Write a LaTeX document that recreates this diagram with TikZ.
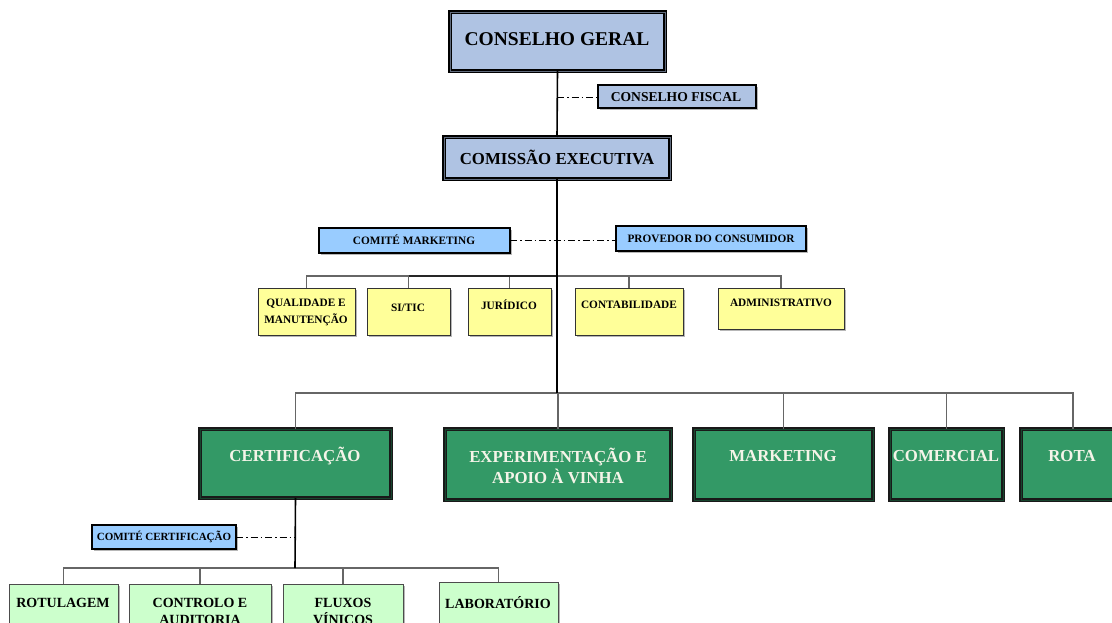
\documentclass[tikz,border=0pt]{standalone}
\usepackage{fontspec}
\setmainfont{Liberation Serif}
\usetikzlibrary{shadows}
\definecolor{topblue}{HTML}{AFC3E3}
\definecolor{comblue}{HTML}{99CCFF}
\definecolor{yel}{HTML}{FFFF99}
\definecolor{grn}{HTML}{339966}
\definecolor{lgrn}{HTML}{CCFFCC}
\definecolor{wtxt}{HTML}{F4F4E8}
\tikzset{
  x=1pt, y=1pt,
  box/.style={anchor=north west, inner sep=0pt, outer sep=0pt},
  shad/.style={drop shadow={shadow xshift=1.6pt, shadow yshift=-1.6pt, fill=black!35, opacity=0.8}},
  topbox/.style={box, shad, fill=topblue, draw=black, line width=1.1pt, double=black!45!topblue, double distance=0.9pt},
  fiscbox/.style={box, shad, fill=topblue, draw=black, line width=2.4pt},
  combox/.style={box, shad, fill=comblue, draw=black, line width=1.4pt},
  yelbox/.style={box, shad, fill=yel, draw=black!80, line width=0.9pt},
  grnbox/.style={box, shad, fill=grn, draw=black!90, line width=1.1pt, double=black!55!grn, double distance=0.9pt},
  lgbox/.style={box, shad, fill=lgrn, draw=black!70, line width=0.9pt},
  txt/.style={inner sep=0pt, align=center, font=\bfseries},
  trunk/.style={draw=black, line width=1.6pt},
  bus/.style={draw=black!60, line width=1.1pt},
  dd/.style={draw=black, line width=0.6pt, dash pattern=on 7pt off 3pt on 1.5pt off 3pt}
}
\newcommand\bx[6]{\node[#1, minimum width={(#5-#3)*1pt}, minimum height={(#6-#4)*1pt}] (#2) at (#3,-#4) {};}
\begin{document}
\begin{tikzpicture}
\useasboundingbox (0,0) rectangle (1112,-623);
\clip (0,0) rectangle (1112,-623);
\fill[white] (0,0) rectangle (1112,-623);

% junction coordinates
\coordinate (fisc-j) at (557,-97);
\coordinate (com-j) at (557,-240);
\coordinate (ybus) at (557,-276);
\coordinate (gbus) at (557,-393);
\coordinate (cc-j) at (295,-537);
\coordinate (lbus) at (295,-568);

% ---------- boxes ----------
\bx{yelbox}{qual}{258}{288}{355}{335}
\bx{yelbox}{sitic}{367}{288}{450}{335}
\bx{yelbox}{jur}{468}{288}{551}{335}
\bx{yelbox}{cont}{575}{288}{683}{335}
\bx{yelbox}{adm}{718}{288}{844}{329}

\bx{grnbox}{cert}{200}{429}{391}{498}
\bx{grnbox}{exp}{445}{429}{671}{500}
\bx{grnbox}{mkt}{694}{429}{873}{500}
\bx{grnbox}{comer}{890}{429}{1003}{500}
\bx{grnbox}{rota}{1021}{429}{1125}{500}

\bx{lgbox}{rot}{9}{584}{118}{640}
\bx{lgbox}{ctrl}{129}{584}{271}{640}
\bx{lgbox}{flux}{283}{584}{403}{640}
\bx{lgbox}{lab}{439}{582}{558}{640}

\bx{topbox}{cg}{450}{12}{665}{71}
\bx{fiscbox}{cf}{598}{85}{756}{108}
\bx{topbox}{ce}{444}{137}{670}{179}
\bx{combox}{cmk}{319}{228}{510}{253}
\bx{combox}{prov}{616}{226}{806}{251}
\bx{combox}{ccert}{92}{525}{236}{549}

% ---------- connectors ----------
\draw[bus] (qual.north) |- (ybus) -| (adm.north);
\draw[bus] (sitic.north) -- (sitic.north |- ybus);
\draw[bus] (jur.north) -- (jur.north |- ybus);
\draw[bus] (cont.north) -- (cont.north |- ybus);
\draw[draw=black!85, line width=1.4pt] (sitic.north |- ybus) -- (ybus);

\draw[bus] (cert.north) |- (gbus) -| (rota.north);
\draw[bus] (exp.north) -- (exp.north |- gbus);
\draw[bus] (mkt.north) -- (mkt.north |- gbus);
\draw[bus] (comer.north) -- (comer.north |- gbus);

\draw[bus] (rot.north) |- (lbus) -| (lab.north);
\draw[bus] (ctrl.north) -- (ctrl.north |- lbus);
\draw[bus] (flux.north) -- (flux.north |- lbus);

\draw[trunk] (cg.south) -- (ce.north);
\draw[trunk] (ce.south) -- (gbus);
\draw[trunk] (cert.south) -- (lbus);

\draw[dd] (fisc-j) -- (cf.west |- fisc-j);
\draw[dd] (cmk.east |- com-j) -- (prov.west |- com-j);
\draw[dd] (ccert.east |- cc-j) -- (cc-j);

% ---------- texts ----------
\node[txt, font=\bfseries\fontsize{19.5}{22}\selectfont] (cg-t) at (557,-39) {CONSELHO GERAL};
\node[txt, font=\bfseries\fontsize{13.6}{15}\selectfont] (cf-t) at (676,-97) {CONSELHO FISCAL};
\node[txt, font=\bfseries\fontsize{16.8}{19}\selectfont] (ce-t) at (557,-157) {COMISSÃO EXECUTIVA};
\node[txt, font=\bfseries\fontsize{11.3}{13}\selectfont] (cmk-t) at (414,-240) {COMITÉ MARKETING};
\node[txt, font=\bfseries\fontsize{11.3}{13}\selectfont] (prov-t) at (711,-239) {PROVEDOR DO CONSUMIDOR};

\begin{scope}[every node/.append style={txt, font=\bfseries\fontsize{11.3}{17}\selectfont}]
\node (qual-t) at (306,-312) {QUALIDADE E\\MANUTENÇÃO};
\node (sitic-t) at (408,-308) {SI/TIC};
\node (jur-t) at (509,-305) {JURÍDICO};
\node (cont-t) at (629,-305) {CONTABILIDADE};
\node (adm-t) at (781,-303) {ADMINISTRATIVO};
\end{scope}

\begin{scope}[every node/.append style={txt, text=wtxt, font=\bfseries\fontsize{16.8}{21}\selectfont}]
\node (cert-t) at (295,-456) {CERTIFICAÇÃO};
\node (exp-t) at (558,-466) {EXPERIMENTAÇÃO E\\APOIO À VINHA};
\node (mkt-t) at (783,-456) {MARKETING};
\node (comer-t) at (946,-456) {COMERCIAL};
\node (rota-t) at (1072,-456) {ROTA};
\end{scope}

\node[txt, font=\bfseries\fontsize{11}{13}\selectfont] (ccert-t) at (164,-537) {COMITÉ CERTIFICAÇÃO};

\begin{scope}[every node/.append style={txt, font=\bfseries\fontsize{14}{17.5}\selectfont}]
\node[anchor=north] (rot-t) at (63,-598) {ROTULAGEM};
\node[anchor=north] (ctrl-t) at (200,-598) {CONTROLO E\\AUDITORIA};
\node[anchor=north] (flux-t) at (343,-598) {FLUXOS\\VÍNICOS};
\node[anchor=north] (lab-t) at (498,-596) {LABORATÓRIO};
\end{scope}
\end{tikzpicture}
\end{document}
